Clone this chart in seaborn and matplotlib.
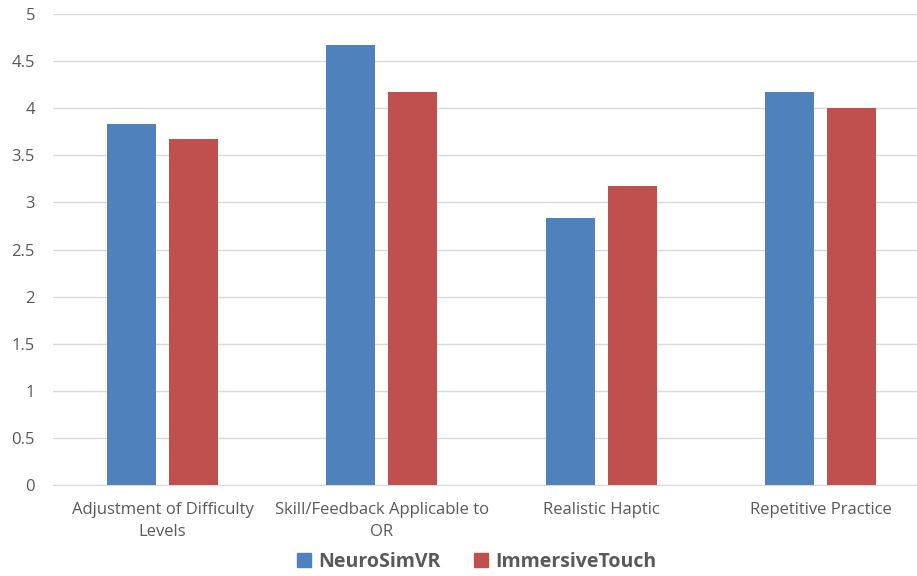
import numpy as np
import pandas as pd
import matplotlib
matplotlib.use('Agg')
import matplotlib.pyplot as plt
import seaborn as sns

# scores
categories = ['Adjustment of Difficulty\nLevels', 'Skill/Feedback Applicable to\nOR',
              'Realistic Haptic', 'Repetitive Practice']
neurosimvr = [3.83, 4.67, 2.83, 4.17]
immersivetouch = [3.67, 4.17, 3.17, 4.00]
series = ['NeuroSimVR', 'ImmersiveTouch']
colors = ['#4F81BD', '#C0504D']

df = pd.DataFrame({
    'Category': categories * 2,
    'Score': neurosimvr + immersivetouch,
    'Device': [series[0]] * 4 + [series[1]] * 4,
})

sns.set_style('white')
plt.rcParams['font.family'] = ['Open Sans', 'DejaVu Sans']

fig = plt.figure(figsize=(9.17, 5.76), dpi=100)
ax = fig.add_axes([53 / 917, 1 - 485 / 576, 877 / 917, 471 / 576])

sns.barplot(data=df, x='Category', y='Score', hue='Device', palette=colors,
            width=0.566, gap=0.21, ax=ax, saturation=1, errorbar=None,
            linewidth=0, zorder=3)

ax.set_ylim(0, 5)
ax.set_yticks(np.arange(0, 5.01, 0.5))
ax.set_yticklabels(['0', '0.5', '1', '1.5', '2', '2.5', '3', '3.5', '4', '4.5', '5'])
ax.yaxis.grid(True, color='#D9D9D9', linewidth=1, zorder=0)
ax.set_axisbelow(True)
for s in ['top', 'right', 'left']:
    ax.spines[s].set_visible(False)
ax.spines['bottom'].set_color('#D9D9D9')
ax.tick_params(axis='both', length=0, labelsize=12, labelcolor='#595959')
ax.tick_params(axis='y', pad=13)
ax.tick_params(axis='x', pad=12)
for lab in ax.get_xticklabels():
    lab.set_linespacing(1.5)
ax.set_xlabel('')
ax.set_ylabel('')

ax.legend_.remove()
handles = [plt.Rectangle((0, 0), 1, 1, color=c) for c in colors]
fig.legend(handles, series, loc='center', bbox_to_anchor=(477 / 917, 1 - 562 / 576),
           ncol=2, frameon=False, handlelength=0.7, handleheight=0.7, handletextpad=0.4,
           columnspacing=1.7, prop={'size': 14, 'weight': 'bold'}, labelcolor='#595959')

fig.savefig('out.png', dpi=100)
